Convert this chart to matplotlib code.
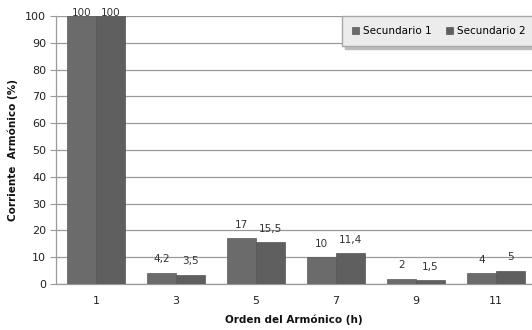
import numpy as np
import matplotlib.pyplot as plt

armonicos = ['1', '3', '5', '7', '9', '11']
secundario1 = [100, 4.2, 17, 10, 2, 4]
secundario2 = [100, 3.5, 15.5, 11.4, 1.5, 5]
etiquetas1 = ['100', '4,2', '17', '10', '2', '4']
etiquetas2 = ['100', '3,5', '15,5', '11,4', '1,5', '5']

fig = plt.figure(figsize=(5.32, 3.30), dpi=100)
ax = fig.add_axes([56 / 532, 46 / 330, 476 / 532, 268 / 330])

x = np.arange(len(armonicos))
w = 0.36
b1 = ax.bar(x - w / 2, secundario1, w, color='#6b6b6b', edgecolor='#5a5a5a', linewidth=0.5,
            label='Secundario 1', zorder=3)
b2 = ax.bar(x + w / 2, secundario2, w, color='#5f5f5f', edgecolor='#555555', linewidth=0.5,
            label='Secundario 2', zorder=3)

# value labels above each bar
for bars, labels in ((b1, etiquetas1), (b2, etiquetas2)):
    for rect, txt in zip(bars, labels):
        h = rect.get_height()
        off = -1.5 if h >= 95 else 6
        ax.annotate(txt, (rect.get_x() + rect.get_width() / 2, h), xytext=(0, off),
                    textcoords='offset points', ha='center', va='bottom',
                    fontsize=7.5, color='#333333', zorder=4)

ax.set_xlim(-0.5, 5.45)
ax.set_ylim(0, 100)
ax.set_yticks(range(0, 101, 10))
ax.set_xticks(x)
ax.set_xticklabels(armonicos)
ax.yaxis.grid(True, color='#9a9a9a', linewidth=0.9, zorder=0)
ax.tick_params(axis='y', length=4, color='#9a9a9a', labelsize=8, labelcolor='#222222', pad=3)
ax.tick_params(axis='x', length=0, labelsize=8, labelcolor='#222222', pad=9)
for s in ('top', 'right'):
    ax.spines[s].set_visible(False)
for s in ('left', 'bottom'):
    ax.spines[s].set_color('#9a9a9a')
    ax.spines[s].set_linewidth(0.9)

ax.set_xlabel('Orden del Armónico (h)', fontsize=7.5, fontweight='bold', color='#111111', labelpad=6)
ax.set_ylabel('Corriente  Armónico (%)', fontsize=7.5, fontweight='bold', color='#111111', labelpad=5)

leg = ax.legend(loc='upper left', bbox_to_anchor=(0.601, 1.0), ncol=2, fontsize=7.5,
                frameon=True, fancybox=False, shadow={'color': '#bbbbbb', 'alpha': 1},
                handlelength=0.7, handleheight=0.7, handletextpad=0.4,
                columnspacing=1.3, borderpad=0.95, borderaxespad=0)
leg.get_frame().set_facecolor('#ececec')
leg.get_frame().set_edgecolor('#a8a8a8')
leg.set_zorder(5)

fig.savefig('out.png', dpi=100, facecolor='white')
